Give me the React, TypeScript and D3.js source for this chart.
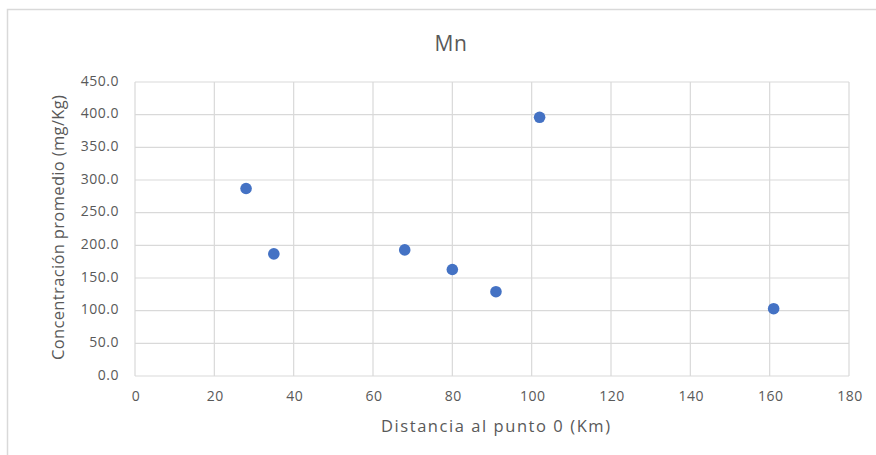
import React from "react";
import * as d3 from "d3";

// Mn concentration vs. distance from point 0
const distanceKm = [28, 35, 68, 80, 91, 102, 161];
const concentration = [287, 187, 193, 163, 129, 396, 103];
const xTicks = [0, 20, 40, 60, 80, 100, 120, 140, 160, 180];
const yTicks = [0, 50, 100, 150, 200, 250, 300, 350, 400, 450];

const title = "Mn";
const xTitle = "Distancia al punto 0 (Km)";
const yTitle = "Concentración promedio (mg/Kg)";

const W = 876;
const H = 455;
const plot = { left: 135, right: 849, top: 82, bottom: 376 };
const font = "'Open Sans', 'Noto Sans', sans-serif";
const textColor = "#595959";
const gridColor = "#d9d9d9";

export default function App() {
  const x = d3.scaleLinear().domain([0, 180]).range([plot.left, plot.right]);
  const y = d3.scaleLinear().domain([0, 450]).range([plot.bottom, plot.top]);

  return (
    <svg
      width={W}
      height={H}
      style={{ position: "absolute", left: 0, top: 0, background: "#fff" }}
    >
      {/* chart frame */}
      <rect x={7.5} y={9.5} width={W + 10} height={H + 10} fill="#fff" stroke={gridColor} strokeWidth={1.5} />

      <text x={451} y={45} textAnchor="middle" dominantBaseline="middle" fontFamily={font} fontSize={21} letterSpacing={0.5} fill={textColor}>
        {title}
      </text>

      {/* gridlines */}
      {yTicks.map((t) => (
        <line key={"gy" + t} x1={plot.left} x2={plot.right} y1={y(t)} y2={y(t)} stroke={gridColor} strokeWidth={1.2} />
      ))}
      {xTicks.map((t) => (
        <line key={"gx" + t} x1={x(t)} x2={x(t)} y1={plot.top} y2={plot.bottom} stroke={gridColor} strokeWidth={1.2} />
      ))}

      {/* tick labels */}
      {yTicks.map((t) => (
        <text key={"ly" + t} x={119} y={y(t)} textAnchor="end" dominantBaseline="middle" fontFamily={font} fontSize={14} letterSpacing={0.5} fill={textColor}>
          {t.toFixed(1)}
        </text>
      ))}
      {xTicks.map((t) => (
        <text key={"lx" + t} x={x(t) + 1} y={397} textAnchor="middle" dominantBaseline="middle" fontFamily={font} fontSize={14} letterSpacing={0.5} fill={textColor}>
          {t}
        </text>
      ))}

      {/* axis titles */}
      <text
        x={381}
        y={428}
        dominantBaseline="middle"
        fontFamily={font}
        fontSize={16.5}
        textLength={229}
        lengthAdjust="spacing"
        fill={textColor}
      >
        {xTitle}
      </text>
      <text
        transform="translate(60, 360) rotate(-90)"
        dominantBaseline="middle"
        fontFamily={font}
        fontSize={16.5}
        textLength={265}
        lengthAdjust="spacing"
        fill={textColor}
      >
        {yTitle}
      </text>

      {/* points */}
      {distanceKm.map((d, i) => (
        <circle key={"p" + i} cx={x(d)} cy={y(concentration[i])} r={5.8} fill="#4472c4" />
      ))}
    </svg>
  );
}
